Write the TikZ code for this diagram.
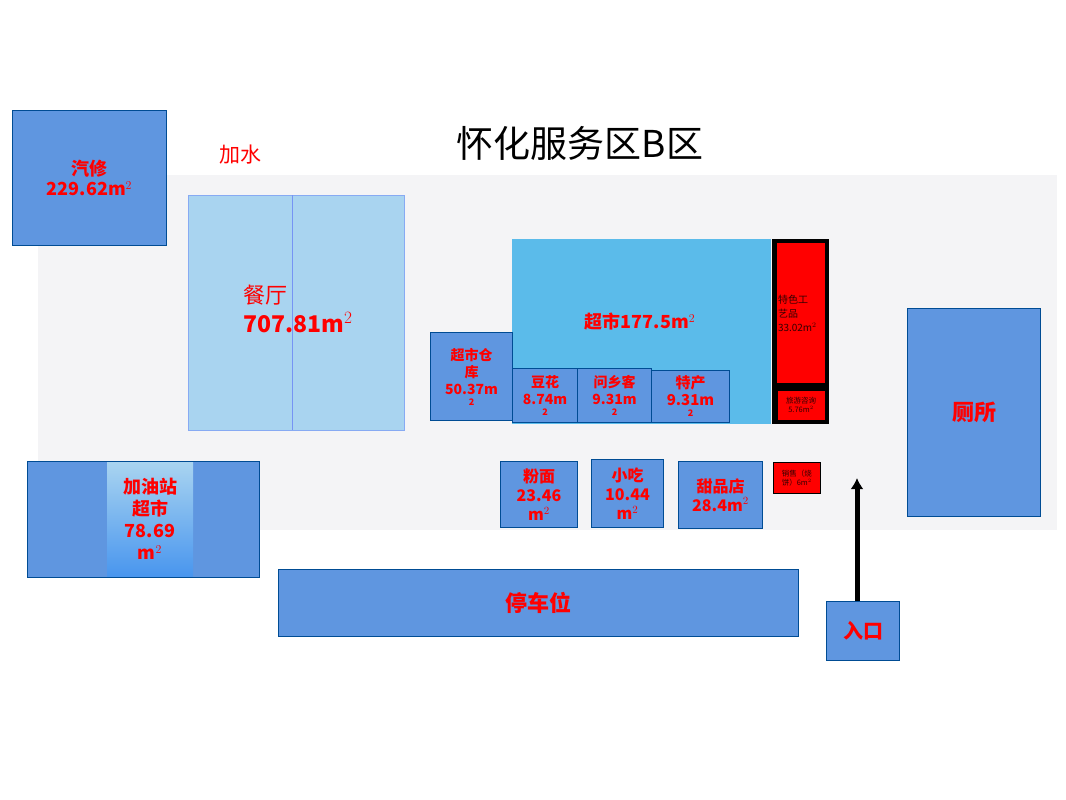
\documentclass[tikz,border=0pt]{standalone}
\usepackage{fontspec}
\usetikzlibrary{arrows.meta}
\setmainfont{Noto Sans CJK SC}
\newfontfamily\cjk{Noto Sans CJK SC}
\begin{document}
\begin{tikzpicture}[x=1pt,y=-1pt,
  blk/.style={draw=blue!40!black!70!cyan, line width=1pt, fill=bluebox, align=center, text=red, font=\cjk\bfseries\fontsize{18}{20}\selectfont, inner sep=0pt},
  lbl/.style={text=red, align=center, font=\cjk\bfseries\fontsize{18}{20}\selectfont},
  redb/.style={fill=red, draw=black, line width=1pt, align=center, text=black!80!red, font=\cjk\fontsize{10}{14}\selectfont},
]
\definecolor{bluebox}{HTML}{5F96E0}
\definecolor{lightb}{HTML}{A9D4F0}
\definecolor{supb}{HTML}{5BBBEA}
\definecolor{bg}{HTML}{F4F4F6}
\useasboundingbox (0,0) rectangle (1066,800);
\fill[bg] (38,175) rectangle (1057,530);
\node[blk, minimum width=154, minimum height=135, anchor=north west] (qx) at (12,110) {汽修\\229.62m$^2$};
\node[text=red, font=\cjk\fontsize{21}{22}\selectfont] (js) at (240,155) {加水};
\node[font=\cjk\fontsize{37}{40}\selectfont] (title) at (580,143) {怀化服务区B区};
\node[draw=lightb!80!blue, fill=lightb, minimum width=216, minimum height=235, anchor=north west] (ct) at (188,195) {};
\draw[draw=lightb!70!blue] (292,195) -- (292,430);
\node[text=red, font=\cjk\fontsize{22}{24}\selectfont] (ctl) at (265,295) {餐厅};
\node[lbl, font=\cjk\bfseries\fontsize{23}{26}\selectfont] (ctn) at (298,323) {707.81m$^2$};
\node[draw=supb, fill=supb, minimum width=258, minimum height=184, anchor=north west] (cs) at (512,239) {};
\node[lbl] (csl) at (640,322) {超市177.5m$^2$};
\node[blk, minimum width=82, minimum height=88, anchor=north west, font=\cjk\bfseries\fontsize{14}{17}\selectfont] (ck) at (430,332) {超市仓\\库\\50.37m\\[-6pt]{\small 2}};
\node[blk, minimum width=65, minimum height=54, anchor=north west, font=\cjk\bfseries\fontsize{14}{17}\selectfont] (dh) at (512,368) {豆花\\8.74m\\[-6pt]{\small 2}};
\node[blk, minimum width=74, minimum height=54, anchor=north west, font=\cjk\bfseries\fontsize{14}{17}\selectfont] (wx) at (577,368) {问乡客\\9.31m\\[-6pt]{\small 2}};
\node[blk, minimum width=78, minimum height=52, anchor=north west, font=\cjk\bfseries\fontsize{15}{17}\selectfont] (tc) at (651,370) {特产\\9.31m\\[-6pt]{\small 2}};
\fill[black] (772,239) rectangle (829,424);
\node[redb, minimum width=49, minimum height=141, anchor=north west, text width=46, align=left, inner sep=1pt] (ts) at (776,242) {特色工\\艺品\\33.02m$^2$};
\node[redb, draw=none, minimum width=47, minimum height=29, anchor=north west, font=\cjk\fontsize{7.5}{9}\selectfont, inner sep=0pt] (ly) at (777,390) {旅游咨询\\5.76m$^2$};
\node[redb, minimum width=47, minimum height=31, anchor=north west, font=\cjk\fontsize{7.5}{9}\selectfont, line width=0.6pt, inner sep=0pt] (xs) at (773,462) {销售（烧\\饼）6m$^2$};
\node[blk, minimum width=77, minimum height=66, anchor=north west, font=\cjk\bfseries\fontsize{16}{19}\selectfont] (fm) at (500,461) {粉面\\23.46\\m$^2$};
\node[blk, minimum width=72, minimum height=68, anchor=north west, font=\cjk\bfseries\fontsize{16}{19}\selectfont] (xc) at (591,459) {小吃\\10.44\\m$^2$};
\node[blk, minimum width=84, minimum height=67, anchor=north west, font=\cjk\bfseries\fontsize{16}{19}\selectfont] (tp) at (678,461) {甜品店\\28.4m$^2$};
\node[blk, minimum width=73, minimum height=59, anchor=north west, font=\cjk\bfseries\fontsize{20}{22}\selectfont] (rk) at (826,601) {入口};
\coordinate (arrs) at (857,601);
\coordinate (arre) at (857,478);
\draw[line width=5pt, -{Latex[length=11pt,width=13pt]}] (arrs) -- (arre);
\node[blk, minimum width=133, minimum height=208, anchor=north west, font=\cjk\bfseries\fontsize{22}{24}\selectfont] (cs2) at (907,308) {厕所};
\node[blk, minimum width=232, minimum height=116, anchor=north west] (jy) at (27,461) {};
\shade[top color=lightb, bottom color=supb!80!blue] (107,462) rectangle (193,576);
\node[lbl, font=\cjk\bfseries\fontsize{18}{22}\selectfont] (jyl) at (150,519) {加油站\\超市\\78.69\\m$^2$};
\node[blk, minimum width=520, minimum height=67, anchor=north west, font=\cjk\bfseries\fontsize{22}{24}\selectfont] (tcw) at (278,569) {停车位};
\end{tikzpicture}
\end{document}
